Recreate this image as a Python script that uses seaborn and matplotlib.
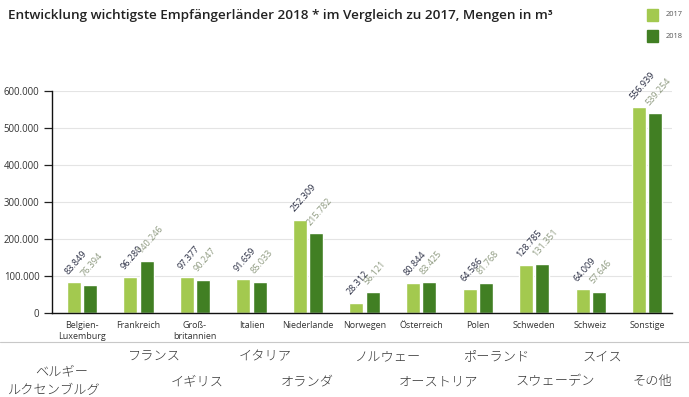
import matplotlib
matplotlib.use("Agg")
import matplotlib.pyplot as plt
import matplotlib.lines as mlines
import matplotlib.patches as mpatches
import pandas as pd
import seaborn as sns

# Export volumes (m³) by receiving country
categories = ["Belgien-\nLuxemburg", "Frankreich", "Groß-\nbritannien", "Italien",
              "Niederlande", "Norwegen", "Österreich", "Polen", "Schweden",
              "Schweiz", "Sonstige"]
years = ["2017", "2018"]
values_2017 = [83849, 96280, 97377, 91659, 252309, 28312, 80844, 64586, 128785, 64009, 556939]
values_2018 = [76394, 140246, 90247, 85033, 215782, 56121, 83425, 81768, 131351, 57646, 539254]
y_ticks = [0, 100000, 200000, 300000, 400000, 500000, 600000]
y_tick_labels = ["0", "100.000", "200.000", "300.000", "400.000", "500.000", "600.000"]

# Japanese captions below the chart, two staggered rows
jp_row1 = ["フランス", "イタリア", "ノルウェー", "ポーランド", "スイス"]
jp_row2 = ["イギリス", "オランダ", "オーストリア", "スウェーデン", "その他"]
jp_belgium = ["ベルギー", "ルクセンブルグ"]

title = "Entwicklung wichtigste Empfängerländer 2018 * im Vergleich zu 2017, Mengen in m³"

colors = {"2017": "#a3c94f", "2018": "#417f23"}
label_colors = {"2017": "#262a40", "2018": "#8e9a80"}

df = pd.DataFrame({
    "Land": categories * 2,
    "Jahr": [years[0]] * len(categories) + [years[1]] * len(categories),
    "Menge": values_2017 + values_2018,
})

sns.set_style("white")
plt.rcParams["font.family"] = ["Open Sans", "DejaVu Sans"]

W, H = 689, 397
fig = plt.figure(figsize=(W / 100, H / 100), dpi=100)
ax = fig.add_axes([52 / W, 1 - 313 / H, (672 - 52) / W, (313 - 91) / H])

sns.barplot(data=df, x="Land", y="Menge", hue="Jahr", order=categories,
            hue_order=years, palette=colors, width=0.57, gap=0.13,
            saturation=1, legend=False, ax=ax)

ax.set_xlim(-0.53, 10.44)
ax.set_ylim(0, 600000)
ax.set_yticks(y_ticks)
ax.set_yticklabels(y_tick_labels, fontsize=6.9, color="#333333")
ax.set_xlabel("")
ax.set_ylabel("")
ax.tick_params(axis="x", length=0, pad=6, labelsize=6.5, labelcolor="#333333")
ax.tick_params(axis="y", length=6, width=0.9, color="#222222", pad=3, left=True)
ax.yaxis.grid(True, color="#e4e4e4", linewidth=0.8)
ax.set_axisbelow(True)
for side in ("top", "right"):
    ax.spines[side].set_visible(False)
for side in ("left", "bottom"):
    ax.spines[side].set_color("#111111")
    ax.spines[side].set_linewidth(1.0)

# Rotated value labels above each bar
for year, container, vals in zip(years, ax.containers, [values_2017, values_2018]):
    for bar, v in zip(container.patches, vals):
        ax.annotate(f"{v:,}".replace(",", "."),
                    xy=(bar.get_x(), bar.get_height()),
                    xytext=(3, 6), textcoords="offset pixels",
                    rotation=49, rotation_mode="anchor",
                    ha="left", va="bottom", fontsize=6.5,
                    color=label_colors[year], annotation_clip=False)

# Title
fig.text(8 / W, 1 - 16 / H, title, fontsize=9.7, fontweight="semibold",
         color="#222222", ha="left", va="center")

# Legend squares at the top right
for i, year in enumerate(years):
    yc = 15 + i * 21
    fig.patches.append(mpatches.Rectangle((647 / W, 1 - (yc + 6) / H), 11 / W, 12 / H,
                                          transform=fig.transFigure,
                                          color=colors[year]))
    fig.text(666 / W, 1 - yc / H, year, fontsize=5.4, color="#555555",
             ha="left", va="center")

# Separator line under the chart
fig.lines.append(mlines.Line2D([0, 1], [1 - 342 / H, 1 - 342 / H],
                               transform=fig.transFigure, color="#c8c8c8",
                               linewidth=0.8))

# Japanese captions
jp_font = ["Noto Sans CJK JP", "DejaVu Sans"]
row1_x = [154, 265, 388, 496, 602]
row2_x = [197, 307, 438, 555, 652]
jp_style = dict(family=jp_font, fontsize=9.5, fontweight="light",
                color="#333333", ha="center", va="center")
for txt, x in zip(jp_row1, row1_x):
    fig.text(x / W, 1 - 357 / H, txt, **jp_style)
for txt, x in zip(jp_row2, row2_x):
    fig.text(x / W, 1 - 382 / H, txt, **jp_style)
fig.text(62 / W, 1 - 372 / H, jp_belgium[0], **jp_style)
fig.text(54 / W, 1 - 390 / H, jp_belgium[1], **jp_style)

fig.savefig("out.png", dpi=100)
